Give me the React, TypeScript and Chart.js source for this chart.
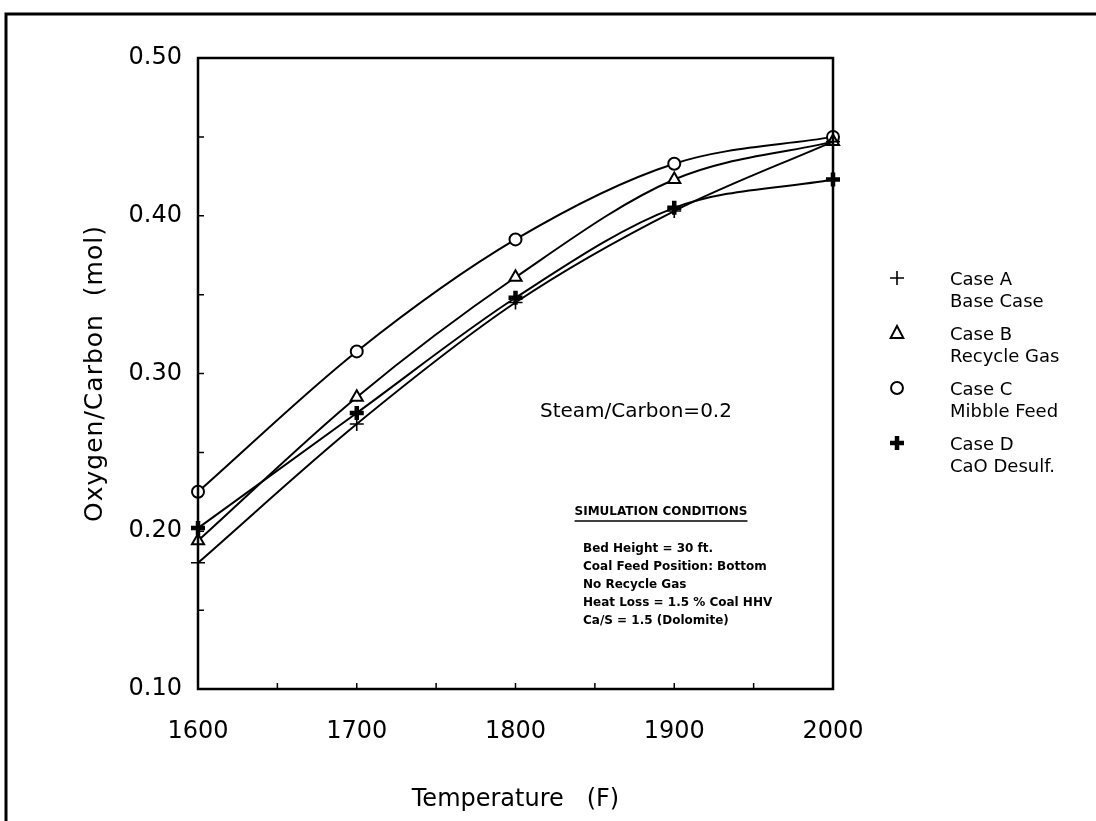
import React, { useEffect, useRef } from 'react';
import { Chart, registerables } from 'chart.js';

Chart.register(...registerables);

// ---- data ----
const temperatures = [1600, 1700, 1800, 1900, 2000];
const caseA = [0.18, 0.268, 0.345, 0.403, 0.447];
const caseB = [0.194, 0.285, 0.361, 0.423, 0.447];
const caseC = [0.225, 0.314, 0.385, 0.433, 0.45];
const caseD = [0.202, 0.275, 0.348, 0.405, 0.423];

const seriesNames = ['Case A', 'Case B', 'Case C', 'Case D'];
const seriesNotes = ['Base Case', 'Recycle Gas', 'Mibble Feed', 'CaO Desulf.'];

const xTickValues = [1600, 1700, 1800, 1900, 2000];
const xTickLabels = ['1600', '1700', '1800', '1900', '2000'];
const yTickValues = [0.1, 0.2, 0.3, 0.4, 0.5];
const yTickLabels = ['0.10', '0.20', '0.30', '0.40', '0.50'];

const xTitle = 'Temperature   (F)';
const yTitle = 'Oxygen/Carbon  (mol)';
const annotationText = 'Steam/Carbon=0.2';
const conditionsTitle = 'SIMULATION CONDITIONS';
const conditionsLines = [
  'Bed Height = 30 ft.',
  'Coal Feed Position: Bottom',
  'No Recycle Gas',
  'Heat Loss = 1.5 % Coal HHV',
  'Ca/S = 1.5 (Dolomite)',
];

const FONT = '"DejaVu Sans", "Liberation Sans", sans-serif';

function drawMarker(ctx: CanvasRenderingContext2D, kind: number, x: number, y: number) {
  ctx.save();
  ctx.strokeStyle = '#000';
  ctx.fillStyle = '#fff';
  const r = 7;
  if (kind === 0) {
    ctx.lineWidth = 1.6;
    ctx.beginPath();
    ctx.moveTo(x - r, y); ctx.lineTo(x + r, y);
    ctx.moveTo(x, y - r); ctx.lineTo(x, y + r);
    ctx.stroke();
  } else if (kind === 1) {
    ctx.lineWidth = 2;
    ctx.beginPath();
    ctx.moveTo(x, y - r);
    ctx.lineTo(x + r * 0.9, y + r * 0.7);
    ctx.lineTo(x - r * 0.9, y + r * 0.7);
    ctx.closePath();
    ctx.fill(); ctx.stroke();
  } else if (kind === 2) {
    ctx.lineWidth = 2;
    ctx.beginPath();
    ctx.arc(x, y, r * 0.85, 0, Math.PI * 2);
    ctx.fill(); ctx.stroke();
  } else {
    ctx.lineWidth = 4.5;
    ctx.beginPath();
    ctx.moveTo(x - r, y); ctx.lineTo(x + r, y);
    ctx.moveTo(x, y - r); ctx.lineTo(x, y + r);
    ctx.stroke();
  }
  ctx.restore();
}

const decorPlugin = {
  id: 'decor',
  afterDraw(chart: any) {
    const ctx: CanvasRenderingContext2D = chart.ctx;
    const { left, right, top, bottom } = chart.chartArea;
    const xs = chart.scales.x;
    const ys = chart.scales.y;
    ctx.save();
    ctx.strokeStyle = '#000';
    ctx.fillStyle = '#000';

    // page frame
    ctx.lineWidth = 3;
    ctx.beginPath();
    ctx.moveTo(6, 821); ctx.lineTo(6, 14); ctx.lineTo(1096, 14);
    ctx.stroke();

    // plot box
    ctx.lineWidth = 2.5;
    ctx.strokeRect(left, top, right - left, bottom - top);

    // inward ticks
    ctx.lineWidth = 1.5;
    ctx.beginPath();
    for (let v = 1650; v < 2000; v += 50) {
      const px = xs.getPixelForValue(v);
      ctx.moveTo(px, bottom); ctx.lineTo(px, bottom - 6);
    }
    for (let k = 1; k < 8; k++) {
      const py = ys.getPixelForValue(0.1 + k * 0.05);
      ctx.moveTo(left, py); ctx.lineTo(left + 6, py);
    }
    ctx.stroke();

    // axis titles
    ctx.textAlign = 'center';
    ctx.textBaseline = 'middle';
    ctx.font = `24px ${FONT}`;
    ctx.fillText(xTitle, (left + right) / 2, 800);
    ctx.save();
    ctx.translate(95, (top + bottom) / 2);
    ctx.rotate(-Math.PI / 2);
    (ctx as any).letterSpacing = '1px';
    ctx.font = `25px ${FONT}`;
    ctx.fillText(yTitle, 0, 0);
    ctx.restore();

    // annotation
    ctx.textAlign = 'left';
    ctx.font = `20px ${FONT}`;
    ctx.fillText(annotationText, 540, 412);

    // simulation conditions
    ctx.font = `bold 12px ${FONT}`;
    ctx.textAlign = 'center';
    const cx = 661;
    ctx.fillText(conditionsTitle, cx, 512);
    const tw = ctx.measureText(conditionsTitle).width;
    ctx.lineWidth = 1.5;
    ctx.beginPath();
    ctx.moveTo(cx - tw / 2, 521); ctx.lineTo(cx + tw / 2, 521);
    ctx.stroke();
    ctx.textAlign = 'left';
    ctx.font = `bold 12px ${FONT}`;
    conditionsLines.forEach((t, i) => ctx.fillText(t, 583, 549 + i * 18));

    // legend
    ctx.font = `18px ${FONT}`;
    seriesNames.forEach((name, i) => {
      const y0 = 280 + i * 55;
      drawMarker(ctx, i, 897, y0 - 2);
      ctx.fillText(name, 950, y0);
      ctx.fillText(seriesNotes[i], 950, y0 + 22);
    });
    ctx.restore();
  },
};

export default function App() {
  const ref = useRef<HTMLCanvasElement | null>(null);
  useEffect(() => {
    if (!ref.current) return;
    const mk = (vals: number[]) => temperatures.map((t, i) => ({ x: t, y: vals[i] }));
    const base = {
      borderColor: '#000',
      borderWidth: 2,
      cubicInterpolationMode: 'monotone' as const,
      clip: false as const,
      pointBorderColor: '#000',
      pointBackgroundColor: '#fff',
      pointRadius: 7,
    };
    const chart = new Chart(ref.current, {
      type: 'line',
      data: {
        datasets: [
          { ...base, label: seriesNames[0], data: mk(caseA), pointStyle: 'cross', pointBorderWidth: 1.6 },
          { ...base, label: seriesNames[1], data: mk(caseB), pointStyle: 'triangle', pointBorderWidth: 2, pointRadius: 7 },
          { ...base, label: seriesNames[2], data: mk(caseC), pointStyle: 'circle', pointBorderWidth: 2, pointRadius: 6 },
          { ...base, label: seriesNames[3], data: mk(caseD), pointStyle: 'cross', pointBorderWidth: 4.5 },
        ],
      },
      plugins: [decorPlugin],
      options: {
        responsive: false,
        animation: false,
        devicePixelRatio: 1,
        layout: { padding: { left: 0, right: 263, top: 58, bottom: 0 } },
        plugins: { legend: { display: false }, tooltip: { enabled: false } },
        scales: {
          x: {
            type: 'linear',
            min: 1600,
            max: 2000,
            afterFit: (s: any) => { s.height = 132; },
            afterBuildTicks: (s: any) => { s.ticks = xTickValues.map((v) => ({ value: v })); },
            ticks: {
              color: '#000',
              font: { family: FONT, size: 24 },
              padding: 20,
              maxRotation: 0,
              callback: (v: any) => {
                const i = xTickValues.findIndex((t) => Math.abs(t - Number(v)) < 1e-6);
                return i >= 0 ? xTickLabels[i] : '';
              },
            },
            grid: { display: false },
            border: { display: false },
          },
          y: {
            type: 'linear',
            min: 0.1,
            max: 0.5,
            afterFit: (s: any) => { s.width = 198; },
            afterBuildTicks: (s: any) => { s.ticks = yTickValues.map((v) => ({ value: v })); },
            ticks: {
              color: '#000',
              font: { family: FONT, size: 24 },
              padding: 8,
              callback: (v: any) => {
                const i = yTickValues.findIndex((t) => Math.abs(t - Number(v)) < 1e-6);
                return i >= 0 ? yTickLabels[i] : '';
              },
            },
            grid: { display: false },
            border: { display: false },
          },
        },
      },
    });
    return () => chart.destroy();
  }, []);
  return (
    <div style={{ position: 'fixed', left: 0, top: 0, width: 1096, height: 821, background: '#fff' }}>
      <canvas ref={ref} width={1096} height={821} style={{ width: 1096, height: 821 }} />
    </div>
  );
}
